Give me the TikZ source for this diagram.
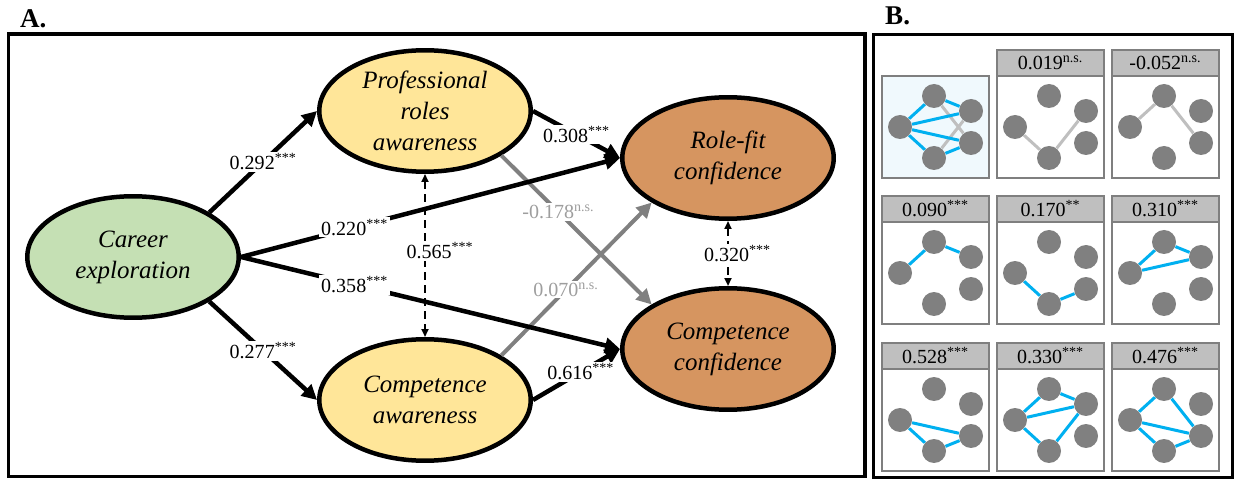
\documentclass[tikz,border=0pt]{standalone}
\usepackage{fontspec}
\setmainfont{Liberation Serif}
\usetikzlibrary{shapes.geometric,arrows.meta}

\definecolor{explgreen}{RGB}{197,224,180}
\definecolor{awareyellow}{RGB}{255,230,153}
\definecolor{confbrown}{RGB}{214,149,96}
\definecolor{nsgray}{RGB}{128,128,128}
\definecolor{nstext}{RGB}{158,158,158}
\definecolor{linkblue}{RGB}{0,176,240}
\definecolor{linkgray}{RGB}{191,191,191}
\definecolor{cellgray}{RGB}{191,191,191}
\definecolor{cellframe}{RGB}{127,127,127}
\definecolor{cellblue}{RGB}{240,249,253}

\tikzset{
  construct/.style={ellipse, draw, line width=0.09cm, minimum width=4.23cm, minimum height=2.43cm,
    inner sep=-4pt, align=center, font=\fontsize{14.2}{17.6}\selectfont\itshape},
  effect/.style={line width=0.09cm, -{Triangle[length=0.3cm,width=0.3cm]}},
  nseffect/.style={line width=0.08cm, nsgray, -{Triangle[length=0.3cm,width=0.3cm]}},
  covar/.style={line width=0.05cm, dash pattern=on 0.16cm off 0.1cm,
    {Triangle[length=0.16cm,width=0.14cm]}-{Triangle[length=0.16cm,width=0.14cm]}},
  coef/.style={fill=white, inner sep=1pt, font=\fontsize{11.4}{13}\selectfont},
  panel/.style={line width=0.07cm},
  cellhead/.style={draw=cellframe, fill=cellgray, line width=0.04cm, minimum width=2.14cm,
    minimum height=0.52cm, inner sep=0pt, font=\fontsize{11.4}{13}\selectfont},
  cellbody/.style={draw=cellframe, line width=0.04cm},
  dot/.style={circle, fill=nsgray, minimum size=0.48cm, inner sep=0pt},
  bluelink/.style={linkblue, line width=0.06cm},
  graylink/.style={linkgray, line width=0.06cm}
}

\begin{document}
\begin{tikzpicture}[x=0.02cm,y=-0.02cm]
  \useasboundingbox (0,0) rectangle (1234,479);

  % panel A
  \node[anchor=base west, font=\fontsize{15.4}{17}\selectfont\bfseries] (titleA) at (14,28) {A.};
  \draw[panel] (8.3,34) rectangle (865,476.7);

  \node[construct, fill=explgreen] (career) at (133,257) {Career\\exploration};
  \node[construct, fill=awareyellow] (prof) at (425,111) {Professional\\roles\\awareness};
  \node[construct, fill=awareyellow] (compaw) at (425,400) {Competence\\awareness};
  \node[construct, fill=confbrown] (rolefit) at (728,158) {Role-fit\\confidence};
  \node[construct, fill=confbrown] (compconf) at (728,349) {Competence\\confidence};

  \draw[covar] (prof.south) -- node[coef, pos=0.47, xshift=0.3cm] {0.565\textsuperscript{***}} (compaw.north);
  \draw[covar] (rolefit.south) -- node[coef, xshift=0.19cm] {0.320\textsuperscript{***}} (compconf.north);

  \draw[nseffect] (prof.south east) -- node[coef, text=nstext, pos=0.38] {-0.178\textsuperscript{n.s.}} (compconf.north west);
  \draw[nseffect] (compaw.north east) -- node[coef, text=nstext, pos=0.43] {0.070\textsuperscript{n.s.}} (rolefit.south west);

  \draw[effect] (career.north east) -- node[coef] {0.292\textsuperscript{***}} (prof.west);
  \draw[effect] (career.south east) -- node[coef] {0.277\textsuperscript{***}} (compaw.west);
  \draw[effect] (career.east) -- node[coef, pos=0.3] {0.220\textsuperscript{***}} (rolefit.west);
  \draw[effect] (career.east) -- node[coef, pos=0.3] {0.358\textsuperscript{***}} (compconf.west);
  \draw[effect] (prof.east) -- node[coef] {0.308\textsuperscript{***}} (rolefit.west);
  \draw[effect] (compaw.east) -- node[coef, pos=0.55] {0.616\textsuperscript{***}} (compconf.west);

  % panel B
  \node[anchor=base west, font=\fontsize{15.4}{17}\selectfont\bfseries] (titleB) at (879,25) {B.};
  \draw[panel] (873.3,34.5) rectangle (1232.3,477.5);

  \foreach \cn/\cx/\cy/\cf in {a/882/76/cellblue, b/997/76/white, c/1112/76/white,
      d/882/222/white, e/997/222/white, f/1112/222/white,
      g/882/369/white, h/997/369/white, i/1112/369/white}{
    \draw[cellbody, fill=\cf] (\cx,\cy) rectangle ++(107,102);
    \node[dot] (\cn-l) at (\cx+18,\cy+51) {};
    \node[dot] (\cn-t) at (\cx+52,\cy+20) {};
    \node[dot] (\cn-u) at (\cx+89,\cy+35) {};
    \node[dot] (\cn-w) at (\cx+89,\cy+67) {};
    \node[dot] (\cn-b) at (\cx+52,\cy+82) {};
  }

  \foreach \cn/\cx/\cy/\val in {b/997/76/{0.019\textsuperscript{n.s.}}, c/1112/76/{-0.052\textsuperscript{n.s.}},
      d/882/222/{0.090\textsuperscript{***}}, e/997/222/{0.170\textsuperscript{**}}, f/1112/222/{0.310\textsuperscript{***}},
      g/882/369/{0.528\textsuperscript{***}}, h/997/369/{0.330\textsuperscript{***}}, i/1112/369/{0.476\textsuperscript{***}}}{
    \node[cellhead] (\cn-h) at (\cx+53.5,\cy-13) {\val};
  }

  \draw[graylink] (a-t) -- (a-w) (a-b) -- (a-u);
  \draw[bluelink] (a-l) -- (a-t) -- (a-u) (a-l) -- (a-u) (a-l) -- (a-w) (a-l) -- (a-b) -- (a-w);
  \draw[graylink] (b-l) -- (b-b) -- (b-u);
  \draw[graylink] (c-l) -- (c-t) -- (c-w);
  \draw[bluelink] (d-l) -- (d-t) -- (d-u);
  \draw[bluelink] (e-l) -- (e-b) -- (e-w);
  \draw[bluelink] (f-l) -- (f-t) -- (f-u) -- (f-l);
  \draw[bluelink] (g-l) -- (g-b) -- (g-w) -- (g-l);
  \draw[bluelink] (h-l) -- (h-t) -- (h-u) -- (h-l) -- (h-b) -- (h-u);
  \draw[bluelink] (i-l) -- (i-t) -- (i-w) -- (i-l) -- (i-b) -- (i-w);
\end{tikzpicture}
\end{document}
